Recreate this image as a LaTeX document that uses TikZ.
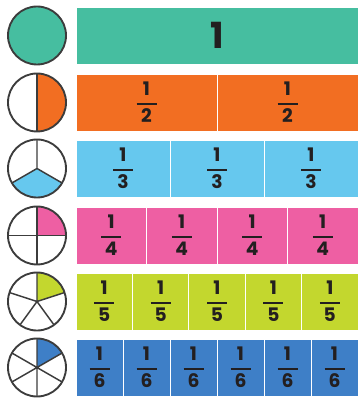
\documentclass[tikz,border=0pt]{standalone}
\usepackage{amsmath}
\usepackage{fontspec}
\setmainfont{Poppins}
\usepackage{tikz}
\usetikzlibrary{positioning,backgrounds}

\definecolor{wholeC}{RGB}{70,190,160}
\definecolor{halfC}{RGB}{242,110,34}
\definecolor{thirdC}{RGB}{102,200,238}
\definecolor{quarterC}{RGB}{238,95,163}
\definecolor{fifthC}{RGB}{195,215,46}
\definecolor{sixthC}{RGB}{62,127,199}
\definecolor{rim}{RGB}{60,60,60}
\definecolor{ink}{RGB}{35,31,32}

\newcommand{\fr}[1]{$\genfrac{}{}{1.1pt}{0}{\makebox[15pt]{1}}{\makebox[15pt]{#1}}$}

\begin{document}
\begin{tikzpicture}[x=0.75pt,y=0.75pt,
  cell/.style={draw=white,line width=0.7pt,inner sep=0pt,outer sep=0pt,minimum height=42.75pt,
    text=ink,font=\fontsize{14}{16}\selectfont\bfseries},
  whole/.style={cell,fill=wholeC,minimum width=211.5pt,font=\fontsize{27}{27}\selectfont\bfseries},
  half/.style={cell,fill=halfC,minimum width=105.75pt},
  third/.style={cell,fill=thirdC,minimum width=70.5pt},
  quarter/.style={cell,fill=quarterC,minimum width=52.875pt},
  fifth/.style={cell,fill=fifthC,minimum width=42.3pt},
  sixth/.style={cell,fill=sixthC,minimum width=35.25pt},
  pie/.style={circle,draw=rim,line width=1.4pt,minimum size=43.5pt,inner sep=0pt,outer sep=0pt},
  spoke/.style={draw=rim,line width=1.1pt}
]
  \useasboundingbox (0,0) rectangle (358,400);

  % circles
  \node[pie,fill=wholeC] (c1) at (37,364.5) {};
  \node[pie] (c2) at (37,297.5) {};
  \node[pie] (c3) at (37,231.5) {};
  \node[pie] (c4) at (37,164.5) {};
  \node[pie] (c5) at (37,98.5) {};
  \node[pie] (c6) at (37,32.5) {};

  % shaded parts
  \begin{scope}[on background layer]
    \fill[white] (0,0) rectangle (358,400);
    \fill[halfC] (c2.center) -- (c2.90) arc[start angle=90,end angle=-90,radius=21.75pt] -- cycle;
    \fill[thirdC] (c3.center) -- (c3.210) arc[start angle=210,end angle=330,radius=21.75pt] -- cycle;
    \fill[quarterC] (c4.center) -- (c4.0) arc[start angle=0,end angle=90,radius=21.75pt] -- cycle;
    \fill[fifthC] (c5.center) -- (c5.18) arc[start angle=18,end angle=90,radius=21.75pt] -- cycle;
    \fill[sixthC] (c6.center) -- (c6.30) arc[start angle=30,end angle=90,radius=21.75pt] -- cycle;
  \end{scope}

  \draw[spoke] (c2.90) -- (c2.-90);
  \draw[spoke] (c3.90) -- (c3.center) -- (c3.210) (c3.center) -- (c3.330);
  \draw[spoke] (c4.north) -- (c4.south) (c4.west) -- (c4.east);
  \draw[spoke] (c5.90) -- (c5.center) -- (c5.18) (c5.center) -- (c5.-54)
    (c5.center) -- (c5.-126) (c5.center) -- (c5.162);
  \draw[spoke] (c6.90) -- (c6.-90) (c6.30) -- (c6.-150) (c6.150) -- (c6.-30);

  % bars
  \node[whole] (w1) at (217,364.5) {1};

  \node[half] (h1) at (146.5,297.5) {\fr{2}};
  \node[half,right=0pt of h1] (h2) {\fr{2}};

  \node[third] (t1) at (123,231.5) {\fr{3}};
  \node[third,right=0pt of t1] (t2) {\fr{3}};
  \node[third,right=0pt of t2] (t3) {\fr{3}};

  \node[quarter] (q1) at (111.25,164.5) {\fr{4}};
  \node[quarter,right=0pt of q1] (q2) {\fr{4}};
  \node[quarter,right=0pt of q2] (q3) {\fr{4}};
  \node[quarter,right=0pt of q3] (q4) {\fr{4}};

  \node[fifth] (f1) at (104.2,98.5) {\fr{5}};
  \node[fifth,right=0pt of f1] (f2) {\fr{5}};
  \node[fifth,right=0pt of f2] (f3) {\fr{5}};
  \node[fifth,right=0pt of f3] (f4) {\fr{5}};
  \node[fifth,right=0pt of f4] (f5) {\fr{5}};

  \node[sixth] (s1) at (99.5,32.5) {\fr{6}};
  \node[sixth,right=0pt of s1] (s2) {\fr{6}};
  \node[sixth,right=0pt of s2] (s3) {\fr{6}};
  \node[sixth,right=0pt of s3] (s4) {\fr{6}};
  \node[sixth,right=0pt of s4] (s5) {\fr{6}};
  \node[sixth,right=0pt of s5] (s6) {\fr{6}};
\end{tikzpicture}
\end{document}
